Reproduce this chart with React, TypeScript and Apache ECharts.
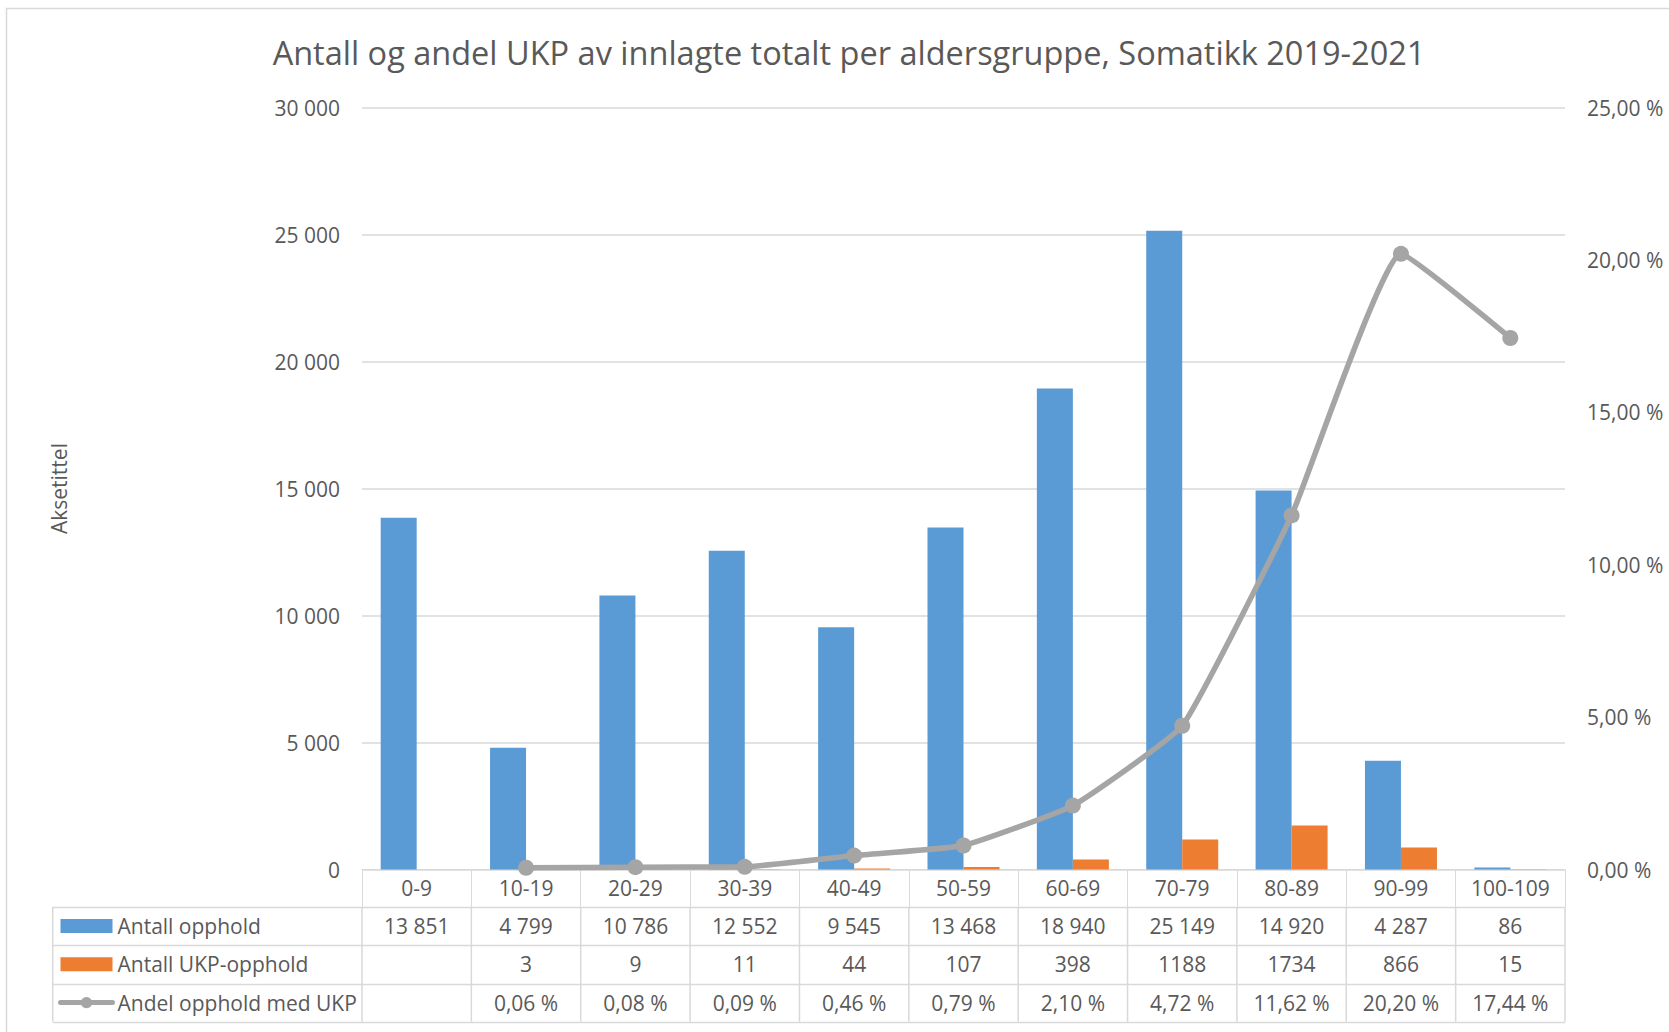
import React, { useEffect, useRef } from "react";
import * as echarts from "echarts";

const categories = ["0-9", "10-19", "20-29", "30-39", "40-49", "50-59", "60-69", "70-79", "80-89", "90-99", "100-109"];
const antallOpphold = [13851, 4799, 10786, 12552, 9545, 13468, 18940, 25149, 14920, 4287, 86];
const antallUKP: (number | null)[] = [null, 3, 9, 11, 44, 107, 398, 1188, 1734, 866, 15];
const andelUKP: (number | null)[] = [null, 0.06, 0.08, 0.09, 0.46, 0.79, 2.1, 4.72, 11.62, 20.2, 17.44];

const seriesNames = ["Antall opphold", "Antall UKP-opphold", "Andel opphold med UKP"];
const titleText = "Antall og andel UKP av innlagte totalt per aldersgruppe, Somatikk 2019-2021";
const axisTitle = "Aksetittel";

const FONT = "'Open Sans', 'Noto Sans', sans-serif";
const TEXT = "#595959";
const GRID = "#d9d9d9";
const BLUE = "#5B9BD5";
const ORANGE = "#ED7D31";
const GRAY = "#A5A5A5";
const FS = 21;

const thousands = (n: number) => String(n).replace(/\B(?=(\d{3})+(?!\d))/g, " ");
const pct = (v: number) => v.toFixed(2).replace(".", ",") + " %";

export default function App() {
  const ref = useRef<HTMLDivElement>(null);
  useEffect(() => {
    if (!ref.current) return;
    const chart = echarts.init(ref.current, undefined, { renderer: "svg" });
    const option: any = {
      animation: false,
      backgroundColor: "#ffffff",
      textStyle: { fontFamily: FONT },
      title: {
        text: titleText,
        left: 844,
        top: 30,
        textAlign: "center",
        textStyle: { fontFamily: FONT, fontSize: 32.5, fontWeight: "normal", color: TEXT, lineHeight: 34 },
      },
      grid: { left: 362, right: 104, top: 107.5, bottom: 162.4, containLabel: false },
      legend: {
        orient: "vertical",
        left: 58,
        top: 915.5,
        padding: 0,
        itemGap: 17.3,
        itemWidth: 52,
        itemHeight: 14,
        selectedMode: false,
        textStyle: { fontFamily: FONT, fontSize: FS, color: TEXT, lineHeight: 21 },
        data: [
          { name: seriesNames[0], icon: "rect" },
          { name: seriesNames[1], icon: "rect" },
          { name: seriesNames[2], lineStyle: { width: 5, color: GRAY }, itemStyle: { color: GRAY } },
        ],
      },
      xAxis: {
        type: "category",
        data: categories,
        boundaryGap: true,
        axisLine: { show: true, lineStyle: { color: GRID, width: 1 } },
        axisTick: { show: true, length: 37.3, inside: false, alignWithLabel: false, interval: 0, lineStyle: { color: GRID } },
        axisLabel: { interval: 0, margin: 8, fontFamily: FONT, fontSize: FS, color: TEXT, lineHeight: 21 },
        splitLine: { show: false },
      },
      yAxis: [
        {
          type: "value",
          min: 0,
          max: 30000,
          interval: 5000,
          name: axisTitle,
          nameLocation: "middle",
          nameRotate: 90,
          nameGap: 293,
          nameTextStyle: { fontFamily: FONT, fontSize: FS, color: TEXT },
          axisLine: { show: false },
          axisTick: { show: false },
          axisLabel: { margin: 22, fontFamily: FONT, fontSize: FS, color: TEXT, formatter: (v: number) => thousands(v) },
          splitLine: { show: true, lineStyle: { color: GRID, width: 1.5 } },
        },
        {
          type: "value",
          min: 0,
          max: 25,
          interval: 5,
          position: "right",
          axisLine: { show: false },
          axisTick: { show: false },
          axisLabel: { margin: 22, fontFamily: FONT, fontSize: FS, color: TEXT, formatter: (v: number) => pct(v) },
          splitLine: { show: false },
        },
      ],
      series: [
        {
          name: seriesNames[0],
          type: "bar",
          data: antallOpphold,
          barWidth: 36,
          barGap: "0%",
          itemStyle: { color: BLUE },
        },
        {
          name: seriesNames[1],
          type: "bar",
          data: antallUKP,
          barWidth: 36,
          barGap: "0%",
          itemStyle: { color: ORANGE },
        },
        {
          name: seriesNames[2],
          type: "line",
          yAxisIndex: 1,
          data: andelUKP,
          smooth: 0.12,
          symbol: "circle",
          symbolSize: 16,
          showSymbol: true,
          connectNulls: false,
          lineStyle: { color: GRAY, width: 5.5, cap: "round" },
          itemStyle: { color: GRAY },
          z: 5,
        },
      ],
    };
    chart.setOption(option);

    // Data table beneath the axis, aligned with the category axis
    const c0 = chart.convertToPixel({ xAxisIndex: 0 }, 0) as number;
    const c1 = chart.convertToPixel({ xAxisIndex: 0 }, 1) as number;
    const band = c1 - c0;
    const axisY = chart.convertToPixel({ yAxisIndex: 0 }, 0) as number;
    const headerH = 37.3;
    const rowH = 38.3;
    const tableLeft = 52.7;
    const x0 = c0 - band / 2;
    const xEnd = x0 + band * categories.length;
    const rowTop = axisY + headerH;
    const rows: string[][] = [
      antallOpphold.map((v) => thousands(v)),
      antallUKP.map((v) => (v == null ? "" : String(v))),
      andelUKP.map((v) => (v == null ? "" : pct(v))),
    ];
    const graphics: any[] = [];
    for (let r = 0; r <= rows.length; r++) {
      const y = Math.round(rowTop + r * rowH) + 0.5;
      graphics.push({
        type: "line",
        shape: { x1: tableLeft, y1: y, x2: xEnd, y2: y },
        style: { stroke: GRID, lineWidth: 1.5 },
        silent: true,
      });
    }
    const bottomY = rowTop + rows.length * rowH;
    const vx = [tableLeft];
    for (let i = 0; i <= categories.length; i++) vx.push(x0 + i * band);
    vx.forEach((x) => {
      graphics.push({
        type: "line",
        shape: { x1: x, y1: rowTop, x2: x, y2: bottomY },
        style: { stroke: GRID, lineWidth: 1.5 },
        silent: true,
      });
    });
    rows.forEach((row, r) => {
      const cy = rowTop + (r + 0.5) * rowH;
      row.forEach((t, i) => {
        if (!t) return;
        graphics.push({
          type: "text",
          x: x0 + (i + 0.5) * band,
          y: cy,
          style: { text: t, align: "center", verticalAlign: "middle", fontFamily: FONT, fontSize: FS, fill: TEXT },
          silent: true,
        });
      });
    });
    graphics.push({
      type: "rect",
      shape: { x: 6.5, y: 8.5, width: 1700, height: 1100 },
      style: { fill: "none", stroke: GRID, lineWidth: 1.5 },
      silent: true,
      z: -1,
    });
    chart.setOption({ graphic: graphics });

    return () => chart.dispose();
  }, []);
  return <div ref={ref} style={{ position: "absolute", left: 0, top: 0, width: 1669, height: 1032 }} />;
}
